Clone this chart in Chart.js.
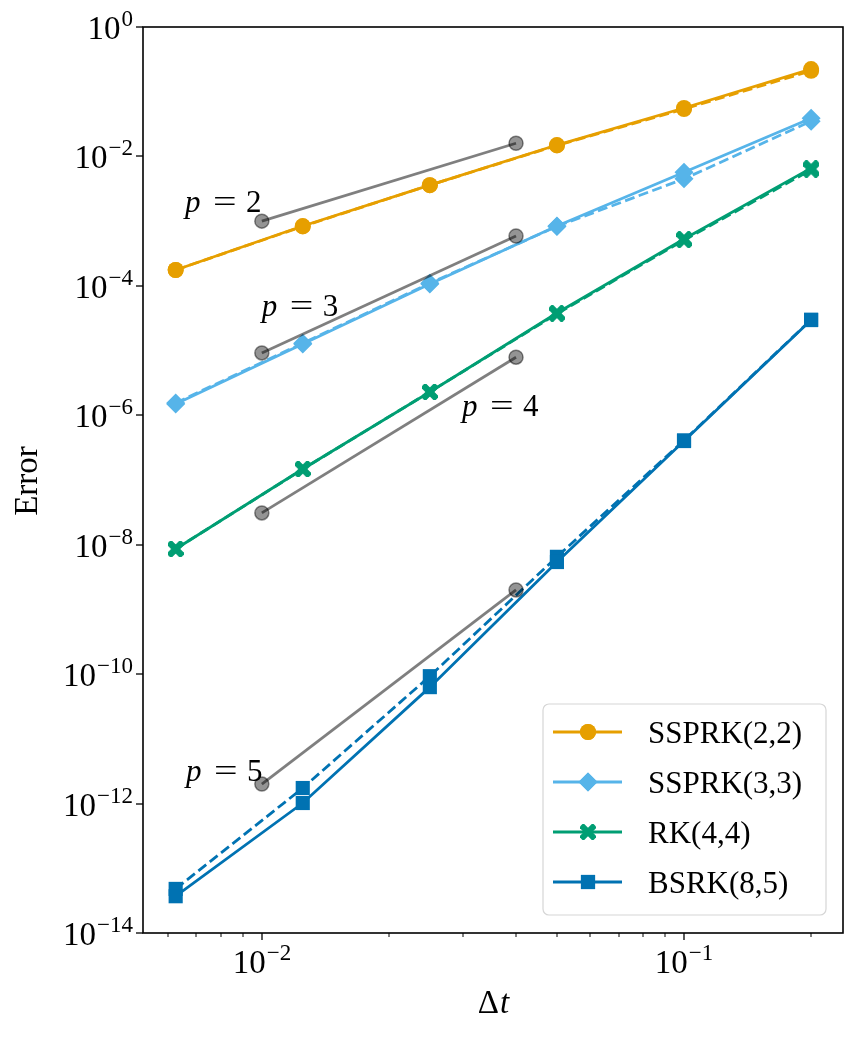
<!DOCTYPE html>
<html>
<head>
<meta charset="utf-8">
<script src="https://cdn.jsdelivr.net/npm/chart.js@4.4.1/dist/chart.umd.min.js"></script>
<style>
  html, body { margin: 0; padding: 0; background: #fff; }
  #c { display: block; }
</style>
</head>
<body>
<canvas id="c" width="865" height="1039"></canvas>
<script>
// ─── Data ─────────────────────────────────────────────
const dtValues = [0.00625, 0.0125, 0.025, 0.05, 0.1, 0.2];

const ssprk22Solid  = [1.76e-4, 8.4e-4, 3.6e-3, 1.5e-2, 5.6e-2, 0.224];
const ssprk22Dashed = [1.76e-4, 8.3e-4, 3.6e-3, 1.48e-2, 5.4e-2, 0.21];
const ssprk33Solid  = [1.49e-6, 1.26e-5, 1.07e-4, 8.4e-4, 5.7e-3, 3.9e-2];
const ssprk33Dashed = [1.55e-6, 1.3e-5, 1.1e-4, 8.3e-4, 4.5e-3, 3.5e-2];
const rk44Solid     = [8.6e-9, 1.48e-7, 2.29e-6, 3.8e-5, 5.3e-4, 6.6e-3];
const rk44Dashed    = [8.6e-9, 1.47e-7, 2.3e-6, 3.7e-5, 5.1e-4, 6.2e-3];
const bsrk85Solid   = [3.7e-14, 1.02e-12, 6.3e-11, 5.4e-9, 4.0e-7, 2.96e-5];
const bsrk85Dashed  = [4.8e-14, 1.74e-12, 9.3e-11, 6.5e-9, 4.1e-7, 3.0e-5];

// reference slopes p = 2..5
const refX  = [0.01, 0.04];
const refP2 = [1.0e-3, 1.6e-2];
const refP3 = [9.2e-6, 5.9e-4];
const refP4 = [3.1e-8, 7.9e-6];
const refP5 = [2.0e-12, 2.0e-9];

const seriesLabels = ['SSPRK(2,2)', 'SSPRK(3,3)', 'RK(4,4)', 'BSRK(8,5)'];
const orderLabels = ['2', '3', '4', '5'];
// label anchors (data coords, left/baseline)
const orderLabelX = [0.00658, 0.01, 0.0298, 0.00661];
const orderLabelY = [1.38e-3, 3.4e-5, 9.7e-7, 2.2e-12];

// ticks
const yTickValues = [1, 1e-2, 1e-4, 1e-6, 1e-8, 1e-10, 1e-12, 1e-14];
const yTickExps   = ['0', '−2', '−4', '−6', '−8', '−10', '−12', '−14'];
const xMajorValues = [0.01, 0.1];
const xMajorExps   = ['−2', '−1'];
const xMinorValues = [0.006, 0.007, 0.008, 0.009, 0.02, 0.03, 0.04, 0.05, 0.06, 0.07, 0.08, 0.09, 0.2];

// ─── Styles ───────────────────────────────────────────
const COLORS = ['#E69F00', '#56B4E9', '#009E73', '#0072B2'];
const SERIF = '"Liberation Serif", "DejaVu Serif", serif';
const FONT_SIZE = 31;
const TICK_SIZE = 33;
const LINE_W = 2.8;

function makeXMarker(color, size, thick) {
  const c = document.createElement('canvas');
  c.width = c.height = size;
  const g = c.getContext('2d');
  g.translate(size / 2, size / 2);
  g.fillStyle = color;
  [Math.PI / 4, -Math.PI / 4].forEach(a => {
    g.save();
    g.rotate(a);
    g.fillRect(-size * 0.6, -thick / 2, size * 1.2, thick);
    g.restore();
  });
  return c;
}
const xMarker = makeXMarker(COLORS[2], 16, 6);

const pointStyles = ['circle', 'rectRot', xMarker, 'rect'];
const pointRadii = [8, 9.5, 8, 10];

function toPoints(xs, ys) {
  return xs.map((x, i) => ({ x: x, y: ys[i] }));
}

function seriesDataset(idx, ys, dashed) {
  return {
    label: seriesLabels[idx] + (dashed ? ' dashed' : ''),
    data: toPoints(dtValues, ys),
    borderColor: COLORS[idx],
    backgroundColor: COLORS[idx],
    borderWidth: LINE_W,
    borderDash: dashed ? [10, 4.5] : [],
    pointStyle: pointStyles[idx],
    pointRadius: pointRadii[idx],
    pointBackgroundColor: COLORS[idx],
    pointBorderColor: COLORS[idx],
    pointBorderWidth: 0,
    tension: 0,
    order: dashed ? 2 : 1
  };
}

function refDataset(ys) {
  return {
    label: 'ref',
    data: toPoints(refX, ys),
    borderColor: 'rgba(0,0,0,0.5)',
    borderWidth: LINE_W,
    pointStyle: 'circle',
    pointRadius: 7,
    pointBackgroundColor: 'rgba(0,0,0,0.42)',
    pointBorderColor: 'rgba(0,0,0,0.45)',
    pointBorderWidth: 1.5,
    order: 0
  };
}

// ─── Custom axes / legend / labels ────────────────────
function drawPow(ctx, x, y, exp, align) {
  // "10" with superscript exponent; y = baseline of "10"
  const supSize = Math.round(TICK_SIZE * 0.7);
  ctx.font = TICK_SIZE + 'px ' + SERIF;
  const wBase = ctx.measureText('10').width;
  ctx.font = supSize + 'px ' + SERIF;
  const wExp = ctx.measureText(exp).width;
  const total = wBase + wExp + 1;
  let x0 = x;
  if (align === 'right') x0 = x - total;
  if (align === 'center') x0 = x - total / 2;
  ctx.textAlign = 'left';
  ctx.textBaseline = 'alphabetic';
  ctx.font = TICK_SIZE + 'px ' + SERIF;
  ctx.fillText('10', x0, y);
  ctx.font = supSize + 'px ' + SERIF;
  ctx.fillText(exp, x0 + wBase + 1, y - 13);
}

const figurePlugin = {
  id: 'figure',
  afterDraw(chart) {
    const ctx = chart.ctx;
    const area = chart.chartArea;
    const xs = chart.scales.x;
    const ys = chart.scales.y;
    ctx.save();
    ctx.fillStyle = '#000';
    ctx.strokeStyle = '#000';

    // order labels
    orderLabels.forEach((lab, i) => {
      const px = xs.getPixelForValue(orderLabelX[i]);
      const py = ys.getPixelForValue(orderLabelY[i]);
      ctx.textAlign = 'left';
      ctx.textBaseline = 'alphabetic';
      ctx.font = 'italic ' + FONT_SIZE + 'px ' + SERIF;
      ctx.fillText('p', px, py);
      ctx.font = FONT_SIZE + 'px ' + SERIF;
      ctx.save();
      ctx.translate(px + 28, py);
      ctx.scale(1.35, 1);
      ctx.fillText('=', 0, 0);
      ctx.restore();
      ctx.fillText(lab, px + 61, py);
    });

    // legend
    const lx = 543, ly = 704, lw = 283, lh = 211;
    ctx.beginPath();
    ctx.roundRect(lx, ly, lw, lh, 6);
    ctx.fillStyle = 'rgba(255,255,255,0.8)';
    ctx.fill();
    ctx.lineWidth = 1.2;
    ctx.strokeStyle = '#d6d6d6';
    ctx.stroke();
    seriesLabels.forEach((lab, i) => {
      const yy = 732 + i * 50;
      ctx.strokeStyle = COLORS[i];
      ctx.fillStyle = COLORS[i];
      ctx.lineWidth = LINE_W;
      ctx.setLineDash([]);
      ctx.beginPath();
      ctx.moveTo(553, yy);
      ctx.lineTo(622, yy);
      ctx.stroke();
      const style = pointStyles[i];
      if (typeof style === 'string') {
        Chart.helpers.drawPoint(ctx, { pointStyle: style, radius: pointRadii[i], borderWidth: 0, rotation: 0 }, 588, yy);
        ctx.fill();
      } else {
        ctx.drawImage(style, 588 - style.width / 2, yy - style.height / 2);
      }
      ctx.fillStyle = '#000';
      ctx.font = FONT_SIZE + 'px ' + SERIF;
      ctx.textAlign = 'left';
      ctx.textBaseline = 'alphabetic';
      ctx.fillText(lab, 648, yy + 11);
    });

    // frame
    ctx.strokeStyle = '#000';
    ctx.lineWidth = 1.6;
    ctx.strokeRect(area.left, area.top, area.right - area.left, area.bottom - area.top);

    // y ticks
    ctx.lineWidth = 1.3;
    ctx.fillStyle = '#000';
    yTickValues.forEach((v, i) => {
      const py = Math.round(ys.getPixelForValue(v));
      ctx.beginPath();
      ctx.moveTo(area.left - 7, py);
      ctx.lineTo(area.left, py);
      ctx.stroke();
      drawPow(ctx, area.left - 10, py + 12, yTickExps[i], 'right');
    });

    // x ticks
    xMajorValues.forEach((v, i) => {
      const px = Math.round(xs.getPixelForValue(v));
      ctx.beginPath();
      ctx.moveTo(px, area.bottom);
      ctx.lineTo(px, area.bottom + 7);
      ctx.stroke();
      drawPow(ctx, px, area.bottom + 40, xMajorExps[i], 'center');
    });
    ctx.lineWidth = 1;
    xMinorValues.forEach(v => {
      const px = Math.round(xs.getPixelForValue(v));
      ctx.beginPath();
      ctx.moveTo(px, area.bottom);
      ctx.lineTo(px, area.bottom + 4);
      ctx.stroke();
    });

    // axis titles
    ctx.font = TICK_SIZE + 'px ' + SERIF;
    ctx.textAlign = 'center';
    ctx.textBaseline = 'alphabetic';
    ctx.save();
    ctx.translate(37, (area.top + area.bottom) / 2 + 1);
    ctx.rotate(-Math.PI / 2);
    ctx.fillText('Error', 0, 0);
    ctx.restore();

    const wD = ctx.measureText('Δ').width;
    ctx.font = 'italic ' + TICK_SIZE + 'px ' + SERIF;
    const wT = ctx.measureText('t').width;
    const cx = (area.left + area.right) / 2 - (wD + wT) / 2;
    ctx.textAlign = 'left';
    ctx.font = TICK_SIZE + 'px ' + SERIF;
    ctx.fillText('Δ', cx, 1013);
    ctx.font = 'italic ' + TICK_SIZE + 'px ' + SERIF;
    ctx.fillText('t', cx + wD + 1, 1013);

    ctx.restore();
  }
};

// ─── Chart ────────────────────────────────────────────
new Chart(document.getElementById('c'), {
  type: 'line',
  data: {
    datasets: [
      refDataset(refP2), refDataset(refP3), refDataset(refP4), refDataset(refP5),
      seriesDataset(0, ssprk22Solid, false),
      seriesDataset(1, ssprk33Solid, false),
      seriesDataset(2, rk44Solid, false),
      seriesDataset(3, bsrk85Solid, false),
      seriesDataset(0, ssprk22Dashed, true),
      seriesDataset(1, ssprk33Dashed, true),
      seriesDataset(2, rk44Dashed, true),
      seriesDataset(3, bsrk85Dashed, true)
    ]
  },
  options: {
    responsive: false,
    devicePixelRatio: 1,
    animation: false,
    layout: { padding: { left: 143, right: 22, top: 27, bottom: 106 } },
    plugins: {
      legend: { display: false },
      tooltip: { enabled: false }
    },
    scales: {
      x: { type: 'logarithmic', min: 0.00523, max: 0.238, display: false },
      y: { type: 'logarithmic', min: 1e-14, max: 1, display: false }
    }
  },
  plugins: [figurePlugin]
});
</script>
</body>
</html>
